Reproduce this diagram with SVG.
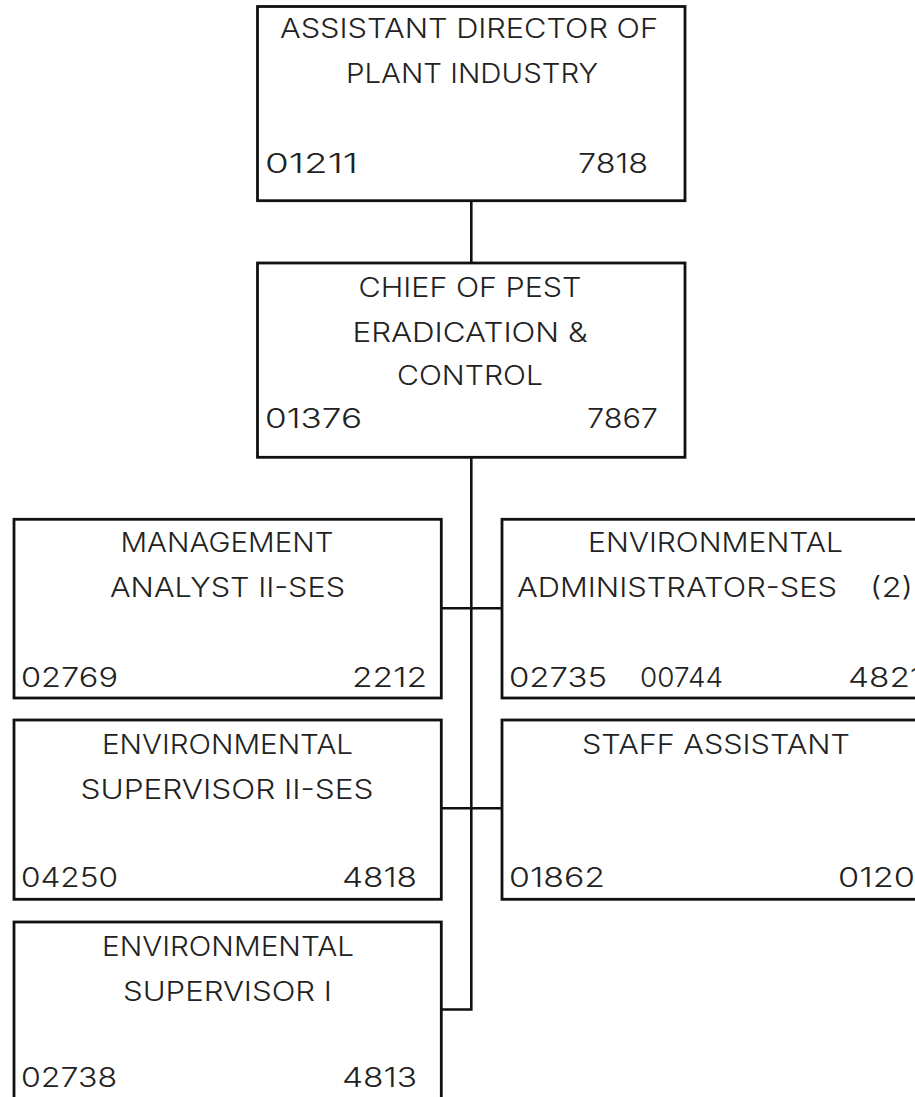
<svg xmlns="http://www.w3.org/2000/svg" width="915" height="1097" viewBox="0 0 915 1097">
  <style>
    .box { fill: #ffffff; stroke: #111111; stroke-width: 2.8; }
    .wire { fill: none; stroke: #111111; stroke-width: 2.6; }
    .title { font-family: Inter, "Liberation Sans", Arial, sans-serif; font-weight: 300; font-size: 27px; fill: #222222; text-anchor: middle; }
    .code { font-family: Inter, "Liberation Sans", Arial, sans-serif; font-weight: 300; font-size: 27px; fill: #222222; }
  </style>
  <rect x="0" y="0" width="915" height="1097" fill="#ffffff"/>

  <!-- reporting lines -->
  <g id="connectors">
    <line class="wire" x1="471.3" y1="200.7" x2="471.3" y2="263"/>
    <polyline class="wire" points="471.3,457.3 471.3,1009.5 441.3,1009.5"/>
    <line class="wire" x1="441.3" y1="608.3" x2="502" y2="608.3"/>
    <line class="wire" x1="441.3" y1="808.3" x2="502" y2="808.3"/>
  </g>

  <g id="assistant-director">
    <rect class="box" x="257.5" y="6.5" width="427.5" height="194.2"/>
    <text class="title" x="469" y="38" textLength="378" lengthAdjust="spacingAndGlyphs">ASSISTANT DIRECTOR OF</text>
    <text class="title" x="472" y="83" textLength="252" lengthAdjust="spacingAndGlyphs">PLANT INDUSTRY</text>
    <text class="code" x="265" y="173" textLength="93" lengthAdjust="spacingAndGlyphs">01211</text>
    <text class="code" x="578" y="173" textLength="70" lengthAdjust="spacingAndGlyphs">7818</text>
  </g>

  <g id="chief-pest-eradication">
    <rect class="box" x="257.5" y="263" width="427.5" height="194.3"/>
    <text class="title" x="470" y="297" textLength="223" lengthAdjust="spacingAndGlyphs">CHIEF OF PEST</text>
    <text class="title" x="470" y="342" textLength="235" lengthAdjust="spacingAndGlyphs">ERADICATION &amp;</text>
    <text class="title" x="470" y="385" textLength="146" lengthAdjust="spacingAndGlyphs">CONTROL</text>
    <text class="code" x="265" y="428" textLength="97" lengthAdjust="spacingAndGlyphs">01376</text>
    <text class="code" x="587" y="428" textLength="71" lengthAdjust="spacingAndGlyphs">7867</text>
  </g>

  <g id="management-analyst">
    <rect class="box" x="14" y="519.3" width="427.3" height="178.7"/>
    <text class="title" x="227" y="552" textLength="213" lengthAdjust="spacingAndGlyphs">MANAGEMENT</text>
    <text class="title" x="227.5" y="597" textLength="235" lengthAdjust="spacingAndGlyphs">ANALYST II-SES</text>
    <text class="code" x="21" y="687" textLength="97" lengthAdjust="spacingAndGlyphs">02769</text>
    <text class="code" x="352" y="687" textLength="75" lengthAdjust="spacingAndGlyphs">2212</text>
  </g>

  <g id="environmental-supervisor-2">
    <rect class="box" x="14" y="720" width="427.3" height="179.3"/>
    <text class="title" x="227.5" y="754" textLength="251" lengthAdjust="spacingAndGlyphs">ENVIRONMENTAL</text>
    <text class="title" x="227" y="799" textLength="293" lengthAdjust="spacingAndGlyphs">SUPERVISOR II-SES</text>
    <text class="code" x="21" y="887" textLength="97" lengthAdjust="spacingAndGlyphs">04250</text>
    <text class="code" x="342" y="887" textLength="75" lengthAdjust="spacingAndGlyphs">4818</text>
  </g>

  <g id="environmental-supervisor-1">
    <rect class="box" x="14" y="922" width="427.3" height="200"/>
    <text class="title" x="228" y="956" textLength="252" lengthAdjust="spacingAndGlyphs">ENVIRONMENTAL</text>
    <text class="title" x="227.5" y="1001" textLength="209" lengthAdjust="spacingAndGlyphs">SUPERVISOR I</text>
    <text class="code" x="21" y="1087" textLength="96" lengthAdjust="spacingAndGlyphs">02738</text>
    <text class="code" x="342" y="1087" textLength="75" lengthAdjust="spacingAndGlyphs">4813</text>
  </g>

  <g id="environmental-administrator">
    <rect class="box" x="502" y="519.3" width="427.3" height="178.7"/>
    <text class="title" x="715.5" y="552" textLength="255" lengthAdjust="spacingAndGlyphs">ENVIRONMENTAL</text>
    <text class="code" y="597"><tspan x="517" textLength="320" lengthAdjust="spacingAndGlyphs">ADMINISTRATOR-SES</tspan><tspan x="870" textLength="43" lengthAdjust="spacingAndGlyphs">(2)</tspan></text>
    <text class="code" y="687"><tspan x="509" textLength="98" lengthAdjust="spacingAndGlyphs">02735</tspan><tspan x="640" textLength="83" lengthAdjust="spacingAndGlyphs">00744</tspan></text>
    <text class="code" x="848" y="687" textLength="75" lengthAdjust="spacingAndGlyphs">4821</text>
  </g>

  <g id="staff-assistant">
    <rect class="box" x="502" y="720" width="427.3" height="179.3"/>
    <text class="title" x="716" y="754" textLength="268" lengthAdjust="spacingAndGlyphs">STAFF ASSISTANT</text>
    <text class="code" x="509" y="887" textLength="96" lengthAdjust="spacingAndGlyphs">01862</text>
    <text class="code" x="838" y="887" textLength="77" lengthAdjust="spacingAndGlyphs">0120</text>
  </g>
</svg>
